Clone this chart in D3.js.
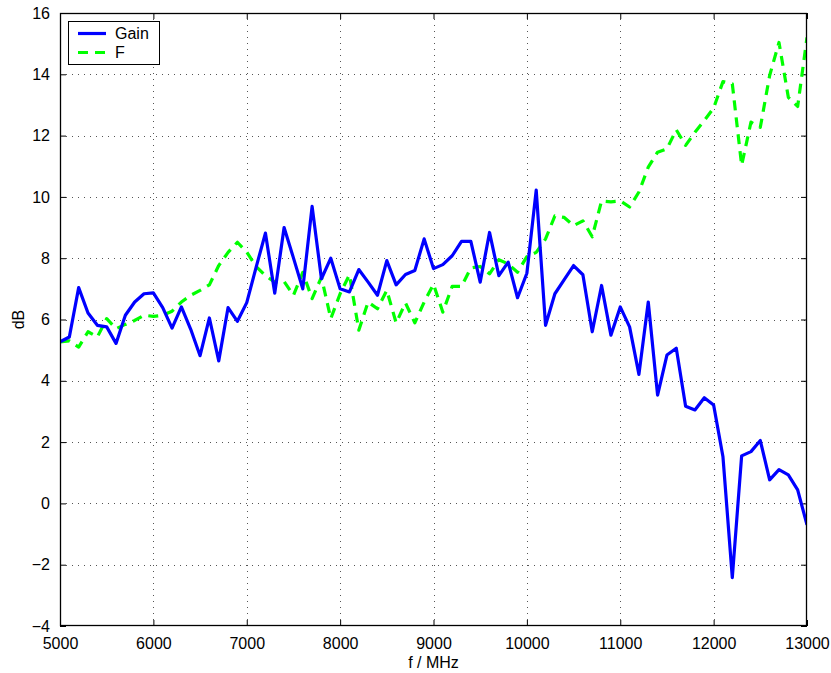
<!DOCTYPE html>
<html><head><meta charset="utf-8">
<script src="https://cdn.jsdelivr.net/npm/d3@7"></script>
<style>
html,body{margin:0;padding:0;background:#fff;}
svg{display:block;font-family:"Liberation Sans",Arial,Helvetica,sans-serif;}
</style></head>
<body><svg id="chart" width="831" height="673"></svg>
<script>
const freq = [5000,5100,5200,5300,5400,5500,5600,5700,5800,5900,
6000,6100,6200,6300,6400,6500,6600,6700,6800,6900,
7000,7100,7200,7300,7400,7500,7600,7700,7800,7900,
8000,8100,8200,8300,8400,8500,8600,8700,8800,8900,
9000,9100,9200,9300,9400,9500,9600,9700,9800,9900,
10000,10100,10200,10300,10400,10500,10600,10700,10800,10900,
11000,11100,11200,11300,11400,11500,11600,11700,11800,11900,
12000,12100,12200,12300,12400,12500,12600,12700,12800,12900,13000];
const gain = [5.27,5.43,7.04,6.21,5.81,5.76,5.22,6.14,6.57,6.84,
6.87,6.39,5.72,6.41,5.68,4.82,6.05,4.65,6.39,5.94,
6.55,7.7,8.82,6.86,9.0,8.01,7.0,9.69,7.33,8.0,
7.0,6.9,7.63,7.22,6.79,7.92,7.13,7.47,7.6,8.63,
7.66,7.79,8.08,8.55,8.55,7.22,8.84,7.43,7.87,6.71,
7.51,10.22,5.81,6.84,7.3,7.76,7.46,5.6,7.11,5.49,
6.41,5.76,4.21,6.57,3.53,4.84,5.06,3.17,3.05,3.45,
3.21,1.52,-2.42,1.55,1.69,2.05,0.77,1.1,0.93,0.44,-0.7];
const noiseF = [5.27,5.3,5.1,5.6,5.43,6.03,5.7,5.84,5.97,6.14,
6.1,6.14,6.27,6.57,6.79,6.95,7.13,7.76,8.19,8.52,
8.2,7.73,7.43,7.22,7.24,6.79,7.54,6.68,7.38,6.03,
6.84,7.46,5.65,6.57,6.35,6.95,5.89,6.54,5.89,6.57,
7.15,6.24,7.08,7.08,7.68,7.73,7.49,7.95,7.81,7.54,
8.05,8.19,8.63,9.38,9.33,9.06,9.22,8.7,9.87,9.84,
9.87,9.67,10.16,10.97,11.46,11.57,12.19,11.68,12.11,12.49,
12.9,13.76,13.69,11.03,12.44,12.27,13.96,15.04,13.25,12.95,15.2];
const xTicks = [5000,6000,7000,8000,9000,10000,11000,12000,13000];
const yTicks = [-4,-2,0,2,4,6,8,10,12,14,16];
const seriesNames = ["Gain","F"];
const seriesColors = ["#0000ff","#00ff00"];
const xLabel = "f / MHz";
const yLabel = "dB";

const W = 831, H = 673;
const m = {left:60, top:13, right:24, bottom:47};
const svg = d3.select("#chart");
const x = d3.scaleLinear().domain([5000,13000]).range([m.left, W-m.right]);
const y = d3.scaleLinear().domain([-4,16]).range([H-m.bottom, m.top]);
const pw = W-m.left-m.right, ph = H-m.top-m.bottom;

svg.append("rect").attr("x",0).attr("y",0).attr("width",W).attr("height",H).attr("fill","#fff");

// grid
const grid = svg.append("g");
grid.selectAll(".gx").data(xTicks.slice(1,-1)).join("line")
  .attr("x1",d=>Math.round(x(d))+0.5).attr("x2",d=>Math.round(x(d))+0.5).attr("y1",m.top).attr("y2",H-m.bottom)
  .attr("stroke","#555").attr("stroke-width",1).attr("stroke-dasharray","1,5");
grid.selectAll(".gy").data(yTicks.slice(1,-1)).join("line")
  .attr("y1",d=>Math.round(y(d))+0.5).attr("y2",d=>Math.round(y(d))+0.5).attr("x1",m.left).attr("x2",W-m.right)
  .attr("stroke","#555").attr("stroke-width",1).attr("stroke-dasharray","1,5");

// axes
const tl = 6;
const axB = svg.append("g").attr("transform",`translate(0,${H-m.bottom})`)
  .call(d3.axisBottom(x).tickValues(xTicks).tickSize(-tl).tickPadding(12).tickFormat(d3.format("d")));
const axT = svg.append("g").attr("transform",`translate(0,${m.top})`)
  .call(d3.axisTop(x).tickValues(xTicks).tickSize(-tl).tickFormat(""));
const axL = svg.append("g").attr("transform",`translate(${m.left},0)`)
  .call(d3.axisLeft(y).tickValues(yTicks).tickSize(-tl).tickPadding(10).tickFormat(d=>d<0?"\u2212"+Math.abs(d):d));
const axR = svg.append("g").attr("transform",`translate(${W-m.right},0)`)
  .call(d3.axisRight(y).tickValues(yTicks).tickSize(-tl).tickFormat(""));
[axB,axT,axL,axR].forEach(a=>{
  a.select(".domain").remove();
  a.selectAll("line").attr("stroke","#000");
  a.selectAll("text").attr("font-size",16).attr("fill","#000").attr("font-family","Liberation Sans, Arial, sans-serif");
});

// lines
const clip = svg.append("clipPath").attr("id","clip").append("rect")
  .attr("x",m.left).attr("y",m.top).attr("width",pw).attr("height",ph);
const lineGen = vals => d3.line().x((d,i)=>x(freq[i])).y(d=>y(d))(vals);
const plot = svg.append("g").attr("clip-path","url(#clip)");
plot.append("path").attr("d",lineGen(noiseF)).attr("fill","none")
  .attr("stroke",seriesColors[1]).attr("stroke-width",3.2).attr("stroke-dasharray","10,7").attr("stroke-linejoin","round");
plot.append("path").attr("d",lineGen(gain)).attr("fill","none")
  .attr("stroke",seriesColors[0]).attr("stroke-width",3.2).attr("stroke-linejoin","round");

// frame
svg.append("rect").attr("x",m.left+0.5).attr("y",m.top+0.5).attr("width",pw-1).attr("height",ph-1)
  .attr("fill","none").attr("stroke","#000").attr("stroke-width",1.3);

// labels
svg.append("text").attr("x",(m.left+W-m.right)/2).attr("y",668).attr("text-anchor","middle")
  .attr("font-size",16).text(xLabel);
svg.append("text").attr("transform",`translate(24,${(m.top+H-m.bottom)/2}) rotate(-90)`).attr("text-anchor","middle")
  .attr("font-size",16).text(yLabel);

// legend
const lg = svg.append("g");
lg.append("rect").attr("x",68.5).attr("y",21.5).attr("width",91).attr("height",43)
  .attr("fill","#fff").attr("stroke","#000").attr("stroke-width",1);
seriesNames.forEach((n,i)=>{
  const yy = 33.5 + i*19;
  lg.append("line").attr("x1",78).attr("x2",106).attr("y1",yy).attr("y2",yy)
    .attr("stroke",seriesColors[i]).attr("stroke-width",3.2)
    .attr("stroke-dasharray", i===1 ? "10,7" : null);
  lg.append("text").attr("x",115).attr("y",yy+5.5).attr("font-size",16).text(n);
});
</script></body></html>
